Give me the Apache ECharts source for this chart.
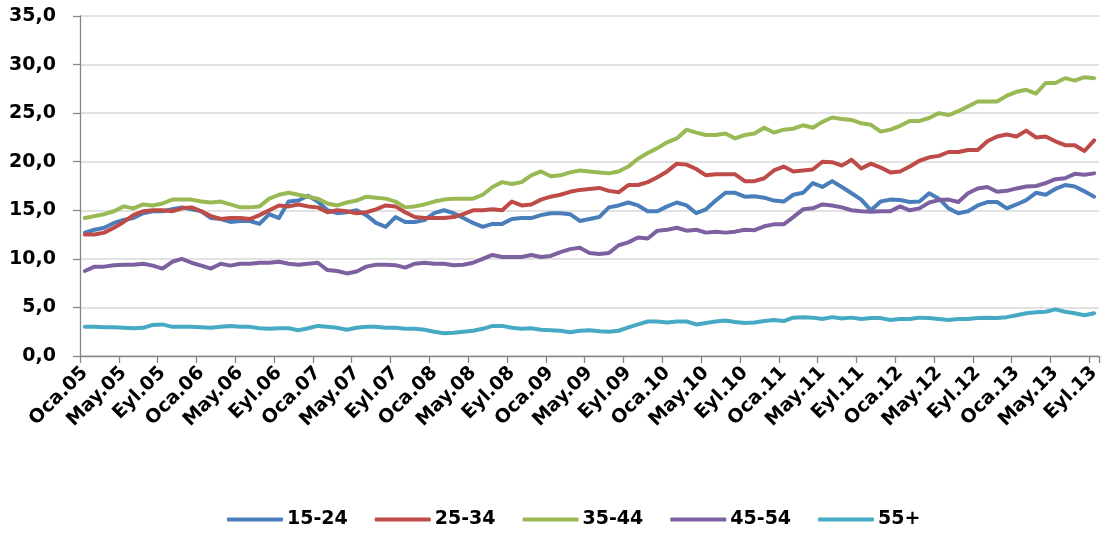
<!DOCTYPE html>
<html>
<head>
<meta charset="utf-8">
<script src="https://cdn.jsdelivr.net/npm/echarts@6/dist/echarts.min.js"></script>
<style>
html,body{margin:0;padding:0;background:#fff;}
#chart{width:1103px;height:534px;}
</style>
</head>
<body>
<div id="chart"></div>
<script>
// Month abbreviations (Turkish) and years for the category axis
var monthNames = ['Oca','Şub','Mar','Nis','May','Haz','Tem','Ağu','Eyl','Eki','Kas','Ara'];
var years = ['05','06','07','08','09','10','11','12','13'];
var lastMonthIndexOfLastYear = 8; // Eyl.13

var seriesNames = ['15-24','25-34','35-44','45-54','55+'];
var seriesColors = ['#4A7EBB','#BE4B48','#98B954','#7D60A0','#46AAC5'];

var s15_24 = [12.7,13.0,13.2,13.7,14.0,14.2,14.7,14.9,14.9,15.1,15.3,15.1,14.9,14.2,14.1,13.8,13.9,13.9,13.6,14.6,14.2,15.9,16.0,16.5,15.9,15.0,14.7,
  14.8,15.0,14.5,13.7,13.3,14.3,13.8,13.8,14.0,14.7,15.0,14.7,14.2,13.7,13.3,13.6,13.6,14.1,14.2,14.2,14.5,14.7,14.7,14.6,13.9,14.1,
  14.3,15.3,15.5,15.8,15.5,14.9,14.9,15.4,15.8,15.5,14.7,15.1,16.0,16.8,
  16.8,16.4,16.45,16.3,16.0,15.9,16.6,16.8,17.8,17.4,18.0,17.4,16.75,16.1,15.0,15.9,16.1,16.05,15.85,15.9,16.75,16.2,15.2,14.7,14.9,15.5,15.85,15.85,15.2,15.6,16.05,16.8,16.6,17.2,17.6,17.45,16.95,16.4];

var s25_34 = [12.5,12.5,12.7,13.2,13.8,14.5,14.9,15.0,15.0,14.9,15.2,15.3,14.9,14.4,14.1,14.2,14.2,14.1,14.5,15.0,15.5,15.4,15.6,15.4,15.3,14.8,15.0,
  14.9,14.7,14.8,15.1,15.5,15.4,14.8,14.3,14.2,14.2,14.2,14.3,14.6,15.0,15.0,15.1,15.0,15.9,15.5,15.6,16.1,16.4,16.6,16.9,17.1,17.2,
  17.3,17.0,16.85,17.6,17.6,17.9,18.4,19.0,19.8,19.7,19.25,18.6,18.7,18.7,
  18.7,18.0,18.0,18.3,19.1,19.5,19.0,19.1,19.2,20.0,19.95,19.6,20.2,19.3,19.8,19.4,18.9,19.0,19.5,20.1,20.45,20.6,21.0,21.0,21.2,21.2,22.1,22.6,22.8,22.6,23.2,22.5,22.6,22.1,21.7,21.7,21.1,22.2];

var s35_44 = [14.2,14.4,14.6,14.9,15.4,15.2,15.6,15.5,15.7,16.1,16.1,16.1,15.9,15.8,15.9,15.6,15.3,15.3,15.4,16.2,16.6,16.8,16.6,16.4,16.2,15.7,15.5,
  15.8,16.0,16.4,16.3,16.2,15.9,15.3,15.4,15.6,15.9,16.1,16.2,16.2,16.2,16.6,17.4,17.9,17.7,17.9,18.6,19.0,18.5,18.6,18.9,19.1,19.0,
  18.9,18.8,19.0,19.5,20.3,20.9,21.4,22.0,22.4,23.3,23.0,22.75,22.75,22.9,
  22.4,22.75,22.9,23.5,23.0,23.3,23.4,23.75,23.5,24.1,24.55,24.4,24.3,23.95,23.8,23.1,23.3,23.7,24.2,24.2,24.5,25.0,24.8,25.2,25.7,26.2,26.2,26.2,26.8,27.2,27.4,27.0,28.1,28.1,28.6,28.35,28.7,28.6];

var s45_54 = [8.75,9.2,9.2,9.35,9.4,9.4,9.5,9.3,9.0,9.7,10.0,9.6,9.3,9.0,9.5,9.3,9.5,9.5,9.6,9.6,9.7,9.5,9.4,9.5,9.6,8.85,8.75,
  8.5,8.7,9.2,9.4,9.4,9.35,9.1,9.5,9.6,9.5,9.5,9.35,9.4,9.6,10.0,10.4,10.2,10.2,10.2,10.4,10.2,10.3,10.7,11.0,11.15,10.6,
  10.5,10.6,11.4,11.7,12.2,12.1,12.9,13.0,13.2,12.9,13.0,12.7,12.8,12.7,
  12.8,13.0,12.95,13.35,13.55,13.55,14.3,15.1,15.2,15.6,15.5,15.3,15.0,14.9,14.85,14.9,14.9,15.4,15.0,15.2,15.8,16.05,16.1,15.85,16.75,17.25,17.4,16.9,17.0,17.25,17.45,17.5,17.8,18.2,18.3,18.75,18.65,18.8];

var s55plus = [3.0,3.0,2.95,2.95,2.9,2.85,2.9,3.2,3.25,3.0,3.0,3.0,2.95,2.9,3.0,3.1,3.0,3.0,2.85,2.8,2.85,2.85,2.65,2.85,3.1,3.0,2.9,
  2.7,2.9,3.0,3.0,2.9,2.9,2.8,2.8,2.7,2.5,2.35,2.4,2.5,2.6,2.8,3.1,3.1,2.9,2.8,2.85,2.7,2.65,2.6,2.45,2.6,2.65,
  2.55,2.5,2.6,2.95,3.25,3.55,3.55,3.45,3.55,3.55,3.25,3.4,3.55,3.65,
  3.5,3.4,3.45,3.6,3.7,3.6,3.95,4.0,3.95,3.8,4.0,3.85,3.95,3.8,3.9,3.9,3.7,3.8,3.8,3.95,3.9,3.8,3.7,3.8,3.8,3.9,3.95,3.9,4.0,4.2,4.4,4.5,4.55,4.8,4.55,4.4,4.2,4.4];

var yTickMin = 0, yTickMax = 35, yTickStep = 5;

var categories = [];
years.forEach(function (yy, yi) {
  var lastM = (yi === years.length - 1) ? lastMonthIndexOfLastYear : 11;
  for (var m = 0; m <= lastM; m++) categories.push(monthNames[m] + '.' + yy);
});

var allData = [s15_24, s25_34, s35_44, s45_54, s55plus];
var FONT = 'DejaVu Sans';

var chart = echarts.init(document.getElementById('chart'), null, {renderer: 'canvas'});
chart.setOption({
  backgroundColor: '#ffffff',
  animation: false,
  grid: {left: 80, right: 2, top: 16, bottom: 178, containLabel: false},
  legend: {
    left: 222,
    top: 505,
    icon: 'roundRect',
    itemWidth: 56,
    itemHeight: 4,
    itemGap: 27,
    textStyle: {fontFamily: FONT, fontWeight: 'bold', fontSize: 19, color: '#000', padding: [0,0,0,-1]},
    data: seriesNames
  },
  xAxis: {
    type: 'category',
    data: categories,
    boundaryGap: true,
    axisLine: {lineStyle: {color: '#868686', width: 1.3}},
    axisTick: {show: true, interval: 3, length: 7, lineStyle: {color: '#868686', width: 1.3}},
    axisLabel: {
      interval: 3, rotate: 45, margin: 14,
      fontFamily: FONT, fontWeight: 'bold', fontSize: 19, color: '#000'
    },
    splitLine: {show: false}
  },
  yAxis: {
    type: 'value',
    min: yTickMin, max: yTickMax, interval: yTickStep,
    axisLine: {show: true, lineStyle: {color: '#868686', width: 1.3}},
    axisTick: {show: true, length: 7, lineStyle: {color: '#868686', width: 1.3}},
    axisLabel: {
      margin: 24,
      fontFamily: FONT, fontWeight: 'bold', fontSize: 19, color: '#000',
      formatter: function (v) { return v.toFixed(1).replace('.', ','); }
    },
    splitLine: {lineStyle: {color: '#D9D9D9', width: 1.5}}
  },
  series: seriesNames.map(function (name, k) {
    return {
      name: name,
      type: 'line',
      data: allData[k],
      symbol: 'none',
      smooth: false,
      color: seriesColors[k],
      lineStyle: {width: 4, color: seriesColors[k], cap: 'round', join: 'round'}
    };
  })
});
</script>
</body>
</html>
